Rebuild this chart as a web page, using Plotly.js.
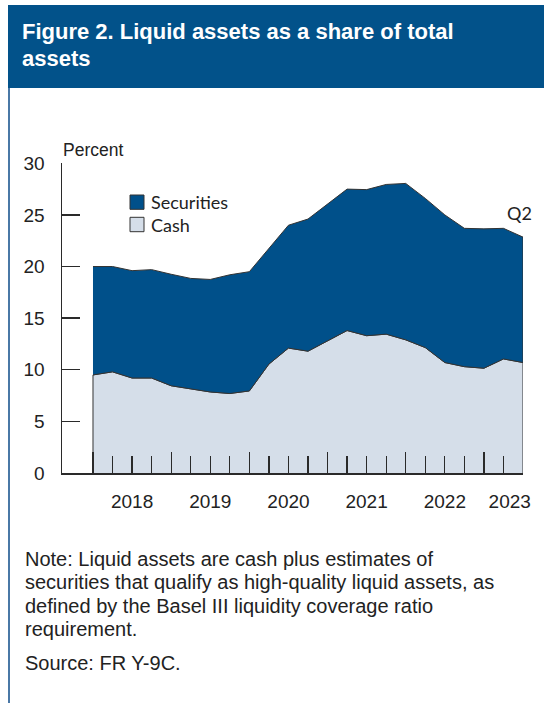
<!DOCTYPE html>
<html>
<head>
<meta charset="utf-8">
<script src="https://cdn.plot.ly/plotly-3.0.1.min.js"></script>
<style>
html,body{margin:0;padding:0;background:#fff;}
#chart{width:544px;height:703px;}
</style>
</head>
<body>
<div id="chart"></div>
<script>
// ---- data ----
const quarters = ['2017Q4','2018Q1','2018Q2','2018Q3','2018Q4','2019Q1','2019Q2','2019Q3','2019Q4',
  '2020Q1','2020Q2','2020Q3','2020Q4','2021Q1','2021Q2','2021Q3','2021Q4',
  '2022Q1','2022Q2','2022Q3','2022Q4','2023Q1','2023Q2'];
const cash = [9.5, 9.8, 9.2, 9.2, 8.45, 8.15, 7.85, 7.7, 7.95,
  10.55, 12.1, 11.8, 12.8, 13.8, 13.3, 13.45, 12.9,
  12.15, 10.7, 10.3, 10.15, 11.05, 10.7];
const securities = [10.5, 10.2, 10.4, 10.5, 10.8, 10.7, 10.9, 11.5, 11.55,
  11.25, 11.9, 12.8, 13.25, 13.7, 14.15, 14.5, 15.15,
  14.45, 14.3, 13.4, 13.5, 12.65, 12.15];
const yearLabels = ['2018','2019','2020','2021','2022','2023'];
const yTicks = [0,5,10,15,20,25,30];
const seriesNames = ['Securities','Cash'];
const titleLines = ['Figure 2. Liquid assets as a share of total','assets'];
const noteLines = ['Note: Liquid assets are cash plus estimates of',
  'securities that qualify as high-quality liquid assets, as',
  'defined by the Basel III liquidity coverage ratio',
  'requirement.'];
const sourceText = 'Source: FR Y-9C.';
const lastLabel = 'Q2';

// ---- derived ----
const xq = quarters.map(q => parseInt(q.slice(0,4)) + parseInt(q.slice(5))/4); // end of quarter
const total = cash.map((c,i) => c + securities[i]);
const xFirst = xq[0], xLast = xq[xq.length-1];
const yearBounds = yearLabels.map(y => parseInt(y));
const yearMid = yearLabels.map(y => Math.min(parseInt(y) + 0.5, xLast - 0.17));
const minorVals = xq.slice(1);

const C_SEC = '#00508a', C_CASH = '#d5dee9', C_EDGE = '#333333', C_AX = '#2a2a2a';
const W = 544, H = 703;
const px = v => v / W, py = v => 1 - v / H;
const FONT = 'Liberation Sans, Arial, sans-serif';
const NARROW = 'Lato, Liberation Sans, sans-serif';

// polygons built from the data
const cashPoly = {
  x: [xFirst].concat(xq, [xLast]),
  y: [0].concat(cash, [0]),
  type: 'scatter', mode: 'lines', fill: 'toself', fillcolor: C_CASH,
  line: {color: C_EDGE, width: 1}, name: seriesNames[1], hoverinfo: 'skip', showlegend: false
};
const secPoly = {
  x: xq.concat(xq.slice().reverse()),
  y: total.concat(cash.slice().reverse()),
  type: 'scatter', mode: 'lines', fill: 'toself', fillcolor: C_SEC,
  line: {color: C_EDGE, width: 1}, name: seriesNames[0], hoverinfo: 'skip', showlegend: false
};
// invisible trace for the year labels axis
const labelTrace = {x: [xFirst, xLast], y: [0,0], xaxis: 'x2', yaxis: 'y', mode: 'none',
  type: 'scatter', showlegend: false, hoverinfo: 'skip'};

const xDomain = [px(62), px(523)];
const yDomain = [py(473), py(163.3)];
const xRange = [2018 - 31/78.2, xLast];

const annotations = [];
annotations.push({xref:'paper', yref:'paper', x: px(20), y: py(31), xanchor:'left', yanchor:'middle',
  text: '<b>' + titleLines[0] + '</b>', showarrow:false, font:{family:FONT, size:22, color:'#ffffff'}});
annotations.push({xref:'paper', yref:'paper', x: px(20), y: py(59), xanchor:'left', yanchor:'middle',
  text: '<b>' + titleLines[1] + '</b>', showarrow:false, font:{family:FONT, size:22, color:'#ffffff'}});
annotations.push({xref:'paper', yref:'paper', x: px(61), y: py(150), xanchor:'left', yanchor:'middle',
  text: 'Percent', showarrow:false, font:{family:FONT, size:17.5, color:'#222'}});
// legend labels
annotations.push({xref:'paper', yref:'paper', x: px(149), y: py(202), xanchor:'left', yanchor:'middle',
  text: seriesNames[0], showarrow:false, font:{family:NARROW, size:18, color:'#222'}});
annotations.push({xref:'paper', yref:'paper', x: px(149), y: py(224.5), xanchor:'left', yanchor:'middle',
  text: seriesNames[1], showarrow:false, font:{family:NARROW, size:18, color:'#222'}});
// Q2 label tied to last data point
annotations.push({xref:'x', yref:'y', x: xLast, y: total[total.length-1], xanchor:'center', yanchor:'middle',
  xshift: -4, yshift: 24, text: lastLabel, showarrow:false, font:{family:NARROW, size:18, color:'#222'}});
// notes
const noteBase = [565.7, 589, 612.5, 636];
noteLines.forEach((t,i) => annotations.push({xref:'paper', yref:'paper', x: px(23), y: py(noteBase[i] - 7),
  xanchor:'left', yanchor:'middle', text: t, showarrow:false, font:{family:FONT, size:20, color:'#222'}}));
annotations.push({xref:'paper', yref:'paper', x: px(23), y: py(670 - 7), xanchor:'left', yanchor:'middle',
  text: sourceText, showarrow:false, font:{family:FONT, size:20, color:'#222'}});

const shapes = [
  {type:'rect', xref:'paper', yref:'paper', x0: px(8), x1: px(544), y0: py(88), y1: py(5),
   fillcolor:'#02528a', line:{width:0}, layer:'below'},
  {type:'line', xref:'paper', yref:'paper', x0: px(9), x1: px(9), y0: py(88), y1: py(703),
   line:{color:'#4a78a6', width:2}},
  {type:'rect', xref:'paper', yref:'paper', x0: px(130), x1: px(144), y0: py(209.3), y1: py(195),
   fillcolor: C_SEC, line:{color:C_EDGE, width:1}},
  {type:'rect', xref:'paper', yref:'paper', x0: px(130), x1: px(144), y0: py(231.7), y1: py(217.3),
   fillcolor: C_CASH, line:{color:C_EDGE, width:1}}
];

const layout = {
  width: W, height: H,
  margin: {l:0, r:0, t:0, b:0, pad:0},
  paper_bgcolor: '#ffffff', plot_bgcolor: 'rgba(0,0,0,0)',
  showlegend: false,
  xaxis: {
    domain: xDomain, range: xRange, fixedrange: true,
    showgrid: false, zeroline: false,
    showline: true, linecolor: C_AX, linewidth: 2,
    tickmode: 'array', tickvals: yearBounds, ticks: 'inside', ticklen: 21, tickwidth: 1.3, tickcolor: C_AX,
    showticklabels: false,
    minor: {tickmode: 'array', tickvals: minorVals, ticks: 'inside', ticklen: 17, tickwidth: 1.3, tickcolor: C_AX, showgrid: false},
    layer: 'above traces'
  },
  xaxis2: {
    domain: xDomain, range: xRange, overlaying: 'x', anchor: 'y', side: 'bottom', fixedrange: true,
    showgrid: false, zeroline: false, showline: false,
    tickmode: 'array', tickvals: yearMid, ticktext: yearLabels, ticks: '',
    ticklabelstandoff: 15,
    tickfont: {family: FONT, size: 19, color: '#222'}
  },
  yaxis: {
    domain: yDomain, range: [0, 30], fixedrange: true,
    showgrid: false, zeroline: false,
    showline: true, linecolor: C_AX, linewidth: 1.5,
    tickmode: 'array', tickvals: yTicks, ticks: 'inside', ticklen: 18, tickwidth: 1.3, tickcolor: C_AX,
    ticklabelstandoff: 12,
    tickfont: {family: FONT, size: 19, color: '#222'},
    layer: 'above traces'
  },
  annotations: annotations,
  shapes: shapes
};

Plotly.newPlot('chart', [cashPoly, secPoly, labelTrace], layout, {staticPlot: true, displayModeBar: false});
</script>
</body>
</html>
